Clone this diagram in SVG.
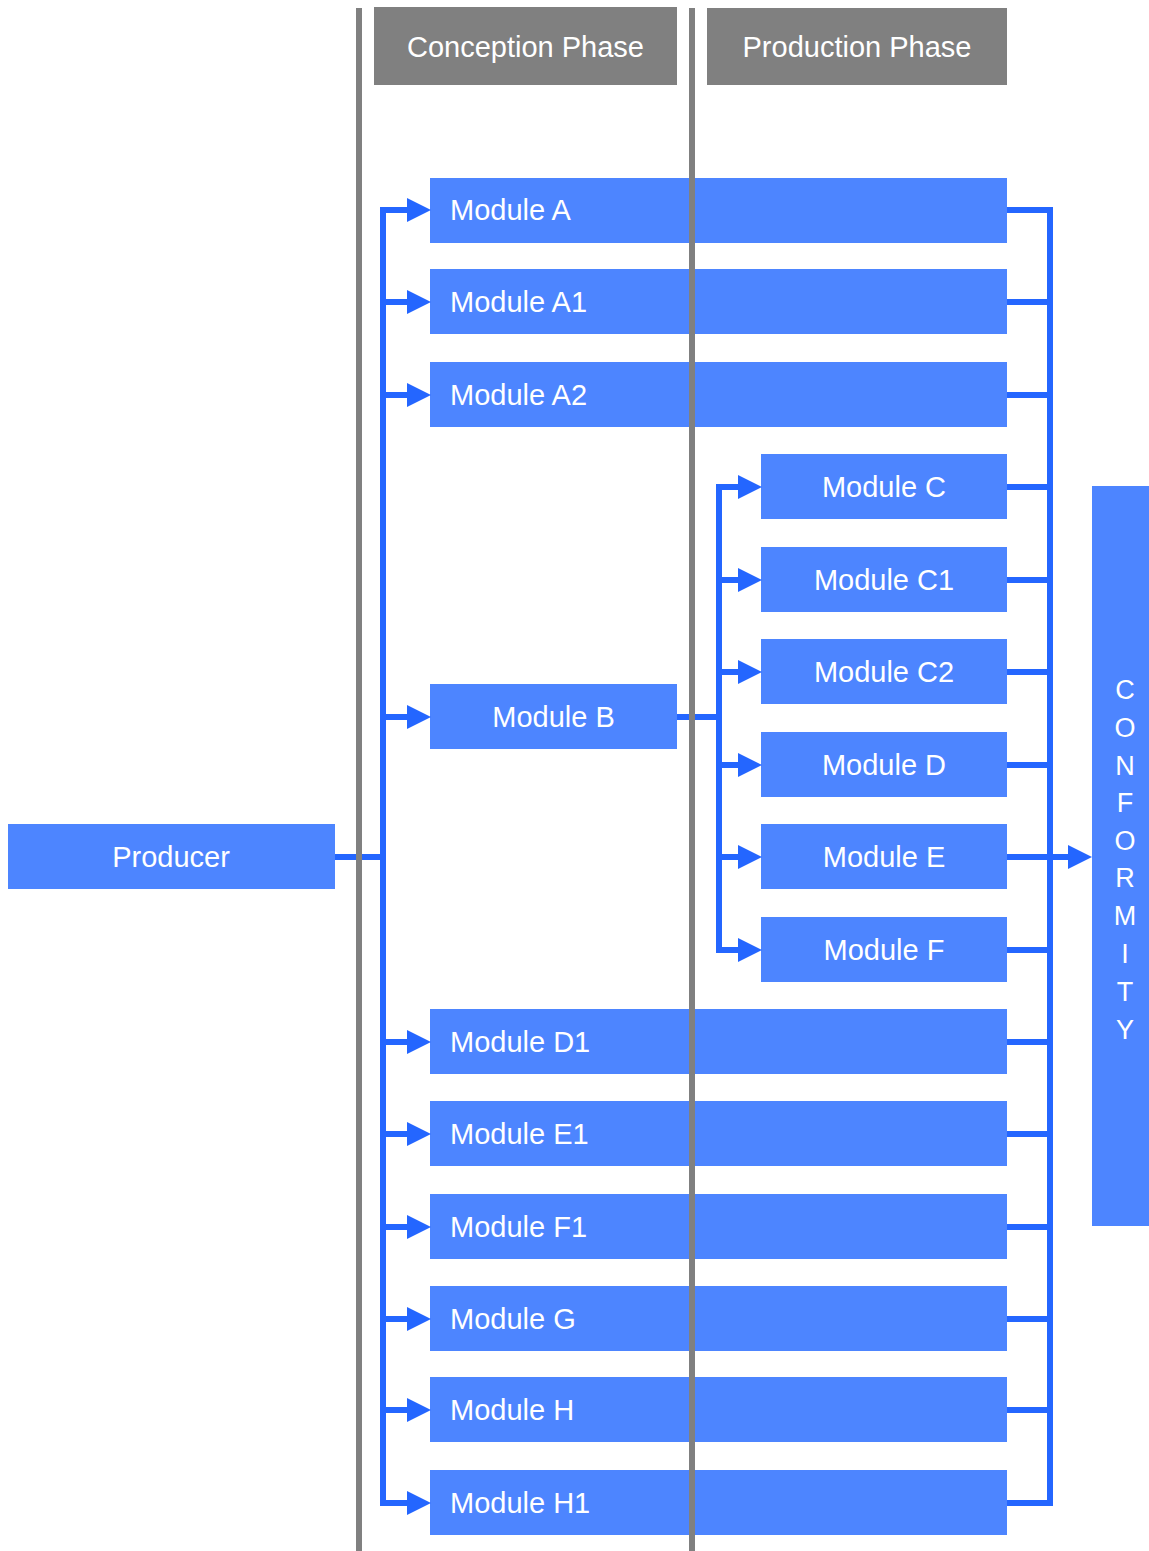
<svg xmlns="http://www.w3.org/2000/svg" width="1149" height="1551" viewBox="0 0 1149 1551">
<defs>
<style>
.box{fill:#4d85ff}
.hdr{fill:#808080}
.t{font-family:"Liberation Sans",Arial,sans-serif;font-size:29px;fill:#ffffff}
.v{font-size:27px}
.c{text-anchor:middle}
.con{fill:none;stroke:#2466ff;stroke-width:6;stroke-linejoin:miter}
.sep{stroke:#808080;stroke-width:6}
</style>
<marker id="ah" viewBox="0 0 24 24" markerWidth="24" markerHeight="24" refX="0" refY="12" markerUnits="userSpaceOnUse" orient="auto">
<path d="M0,0 L24,12 L0,24 z" fill="#2466ff"/>
</marker>
</defs>
<rect width="1149" height="1551" fill="#ffffff"/>

<g id="hdr-conception"><rect class="hdr" x="374" y="7" width="303" height="78"/><text class="t c" x="525.5" y="57">Conception Phase</text></g>
<g id="hdr-production"><rect class="hdr" x="707" y="8" width="300" height="77"/><text class="t c" x="857" y="57">Production Phase</text></g>

<g id="producer"><rect class="box" x="8" y="824" width="327" height="65"/><text class="t c" x="171" y="867">Producer</text></g>

<g id="module-a"><rect class="box" x="430" y="178" width="577" height="65"/><text class="t" x="450" y="220">Module A</text></g>
<g id="module-a1"><rect class="box" x="430" y="269" width="577" height="65"/><text class="t" x="450" y="312">Module A1</text></g>
<g id="module-a2"><rect class="box" x="430" y="362" width="577" height="65"/><text class="t" x="450" y="405">Module A2</text></g>
<g id="module-b"><rect class="box" x="430" y="684" width="247" height="65"/><text class="t c" x="553.5" y="727">Module B</text></g>
<g id="module-c"><rect class="box" x="761" y="454" width="246" height="65"/><text class="t c" x="884" y="497">Module C</text></g>
<g id="module-c1"><rect class="box" x="761" y="547" width="246" height="65"/><text class="t c" x="884" y="590">Module C1</text></g>
<g id="module-c2"><rect class="box" x="761" y="639" width="246" height="65"/><text class="t c" x="884" y="682">Module C2</text></g>
<g id="module-d"><rect class="box" x="761" y="732" width="246" height="65"/><text class="t c" x="884" y="775">Module D</text></g>
<g id="module-e"><rect class="box" x="761" y="824" width="246" height="65"/><text class="t c" x="884" y="867">Module E</text></g>
<g id="module-f"><rect class="box" x="761" y="917" width="246" height="65"/><text class="t c" x="884" y="960">Module F</text></g>
<g id="module-d1"><rect class="box" x="430" y="1009" width="577" height="65"/><text class="t" x="450" y="1052">Module D1</text></g>
<g id="module-e1"><rect class="box" x="430" y="1101" width="577" height="65"/><text class="t" x="450" y="1144">Module E1</text></g>
<g id="module-f1"><rect class="box" x="430" y="1194" width="577" height="65"/><text class="t" x="450" y="1237">Module F1</text></g>
<g id="module-g"><rect class="box" x="430" y="1286" width="577" height="65"/><text class="t" x="450" y="1329">Module G</text></g>
<g id="module-h"><rect class="box" x="430" y="1377" width="577" height="65"/><text class="t" x="450" y="1420">Module H</text></g>
<g id="module-h1"><rect class="box" x="430" y="1470" width="577" height="65"/><text class="t" x="450" y="1513">Module H1</text></g>

<g id="conformity"><rect class="box" x="1092" y="486" width="57" height="740"/>
<text class="t v c" x="1125" y="699">C</text>
<text class="t v c" x="1125" y="737">O</text>
<text class="t v c" x="1125" y="775">N</text>
<text class="t v c" x="1125" y="812">F</text>
<text class="t v c" x="1125" y="850">O</text>
<text class="t v c" x="1125" y="887">R</text>
<text class="t v c" x="1125" y="925">M</text>
<text class="t v c" x="1125" y="963">I</text>
<text class="t v c" x="1125" y="1001">T</text>
<text class="t v c" x="1125" y="1039">Y</text>
</g>

<g id="connectors">
<path class="con" d="M335,857 H383"/>
<path class="con" d="M407,210 H383 V1503 H407" marker-end="url(#ah)"/>
<path class="con" d="M383,210 H407" marker-end="url(#ah)"/>
<path class="con" d="M383,302 H407" marker-end="url(#ah)"/>
<path class="con" d="M383,395 H407" marker-end="url(#ah)"/>
<path class="con" d="M383,717 H407" marker-end="url(#ah)"/>
<path class="con" d="M383,1042 H407" marker-end="url(#ah)"/>
<path class="con" d="M383,1134 H407" marker-end="url(#ah)"/>
<path class="con" d="M383,1227 H407" marker-end="url(#ah)"/>
<path class="con" d="M383,1319 H407" marker-end="url(#ah)"/>
<path class="con" d="M383,1410 H407" marker-end="url(#ah)"/>
<path class="con" d="M677,717 H719"/>
<path class="con" d="M738,487 H719 V950 H738" marker-end="url(#ah)"/>
<path class="con" d="M719,487 H738" marker-end="url(#ah)"/>
<path class="con" d="M719,580 H738" marker-end="url(#ah)"/>
<path class="con" d="M719,672 H738" marker-end="url(#ah)"/>
<path class="con" d="M719,765 H738" marker-end="url(#ah)"/>
<path class="con" d="M719,857 H738" marker-end="url(#ah)"/>
<path class="con" d="M1007,210 H1050 V1503 H1007"/>
<path class="con" d="M1007,302 H1050 M1007,395 H1050 M1007,487 H1050 M1007,580 H1050 M1007,672 H1050 M1007,765 H1050 M1007,950 H1050 M1007,1042 H1050 M1007,1134 H1050 M1007,1227 H1050 M1007,1319 H1050 M1007,1410 H1050"/>
<path class="con" d="M1007,857 H1068" marker-end="url(#ah)"/>
</g>

<g id="phase-separators">
<line class="sep" x1="359" y1="8" x2="359" y2="1551"/>
<line class="sep" x1="692" y1="8" x2="692" y2="1551"/>
</g>
</svg>
